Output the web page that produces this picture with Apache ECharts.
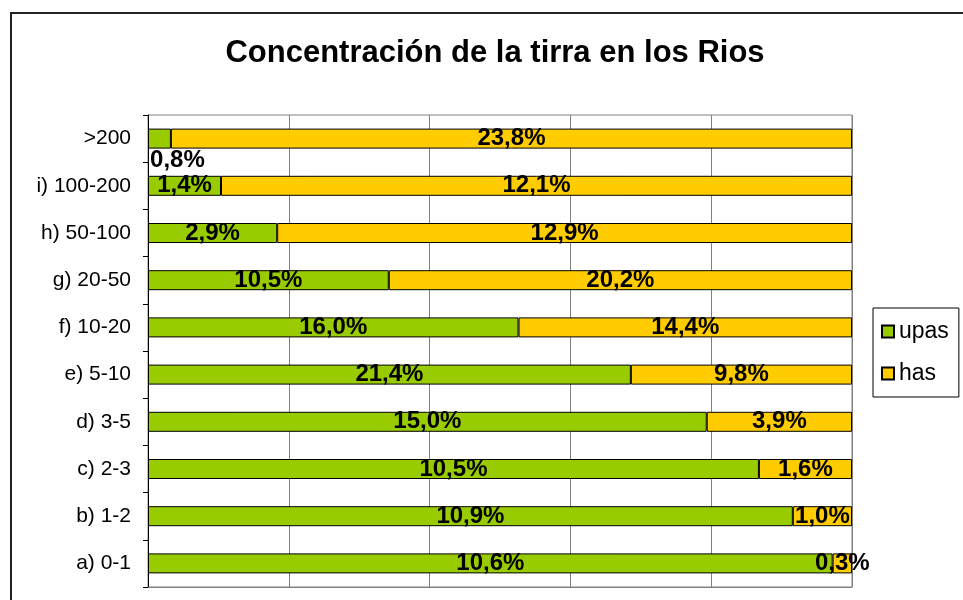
<!DOCTYPE html>
<html>
<head>
<meta charset="utf-8">
<script src="https://cdn.jsdelivr.net/npm/echarts@6/dist/echarts.min.js"></script>
<style>
  html, body { margin: 0; padding: 0; background: #fff; }
  #main { width: 963px; height: 600px; }
</style>
</head>
<body>
<div id="main"></div>
<script>
var categories = ['a) 0-1', 'b) 1-2', 'c) 2-3', 'd) 3-5', 'e) 5-10', 'f) 10-20', 'g) 20-50', 'h) 50-100', 'i) 100-200', '>200'];
var upas = [10.6, 10.9, 10.5, 15.0, 21.4, 16.0, 10.5, 2.9, 1.4, 0.8];
var has = [0.3, 1.0, 1.6, 3.9, 9.8, 14.4, 20.2, 12.9, 12.1, 23.8];
var seriesNames = ['upas', 'has'];

var font = 'Arial, "Liberation Sans", sans-serif';

function fmt(v) {
    return v.toFixed(1).replace('.', ',') + '%';
}

// 100% stacked: each bar split by share, label keeps the original value
function toShares(vals, other, idx) {
    return vals.map(function (v, i) {
        var item = { value: v / (v + other[i]) * 100, raw: v };
        if (idx === 0 && i === vals.length - 1) {
            // label of the tiny >200 segment drops below the bar
            item.label = { position: 'bottom', distance: 0, offset: [18, 0] };
        }
        return item;
    });
}

var chart = echarts.init(document.getElementById('main'));

var labelStyle = {
    show: true,
    position: 'inside',
    color: '#000',
    fontFamily: font,
    fontWeight: 'bold',
    fontSize: 24,
    formatter: function (p) { return fmt(p.data.raw); }
};

var option = {
    animation: false,
    title: {
        text: 'Concentración de la tirra en los Rios',
        left: 490,
        textAlign: 'center',
        top: 33,
        textStyle: { fontFamily: font, fontWeight: 'bold', fontSize: 31, color: '#000' }
    },
    graphic: [{
        type: 'rect',
        shape: { x: 11, y: 13, width: 1000, height: 1000 },
        style: { fill: 'none', stroke: '#222', lineWidth: 2 },
        silent: true
    }],
    legend: {
        data: seriesNames,
        orient: 'vertical',
        left: 873,
        top: 308,
        padding: [12, 10, 12, 8],
        itemGap: 19,
        itemWidth: 12,
        itemHeight: 12,
        icon: 'rect',
        borderColor: '#000',
        borderWidth: 1,
        textStyle: { fontFamily: font, fontSize: 23, color: '#000' }
    },
    grid: {
        left: 148,
        top: 115,
        right: 111,
        bottom: 13,
        show: true,
        borderColor: '#808080',
        borderWidth: 1
    },
    xAxis: {
        type: 'value',
        min: 0,
        max: 100,
        interval: 20,
        axisLine: { show: true, lineStyle: { color: '#808080' } },
        axisTick: { show: false },
        axisLabel: { show: false },
        splitLine: { show: true, lineStyle: { color: '#808080', width: 1 } }
    },
    yAxis: {
        type: 'category',
        data: categories,
        axisLine: { show: true, lineStyle: { color: '#000' } },
        axisTick: { show: true, length: 5, lineStyle: { color: '#000' } },
        axisLabel: { fontFamily: font, fontSize: 21, color: '#000', margin: 17 }
    },
    series: [
        {
            name: seriesNames[0],
            type: 'bar',
            stack: 'total',
            barWidth: 20,
            itemStyle: { color: '#99CC00', borderColor: '#000', borderWidth: 1 },
            label: labelStyle,
            data: toShares(upas, has, 0)
        },
        {
            name: seriesNames[1],
            type: 'bar',
            stack: 'total',
            barWidth: 20,
            itemStyle: { color: '#FFCC00', borderColor: '#000', borderWidth: 1 },
            label: labelStyle,
            data: toShares(has, upas, 1)
        }
    ]
};

chart.setOption(option);
</script>
</body>
</html>
